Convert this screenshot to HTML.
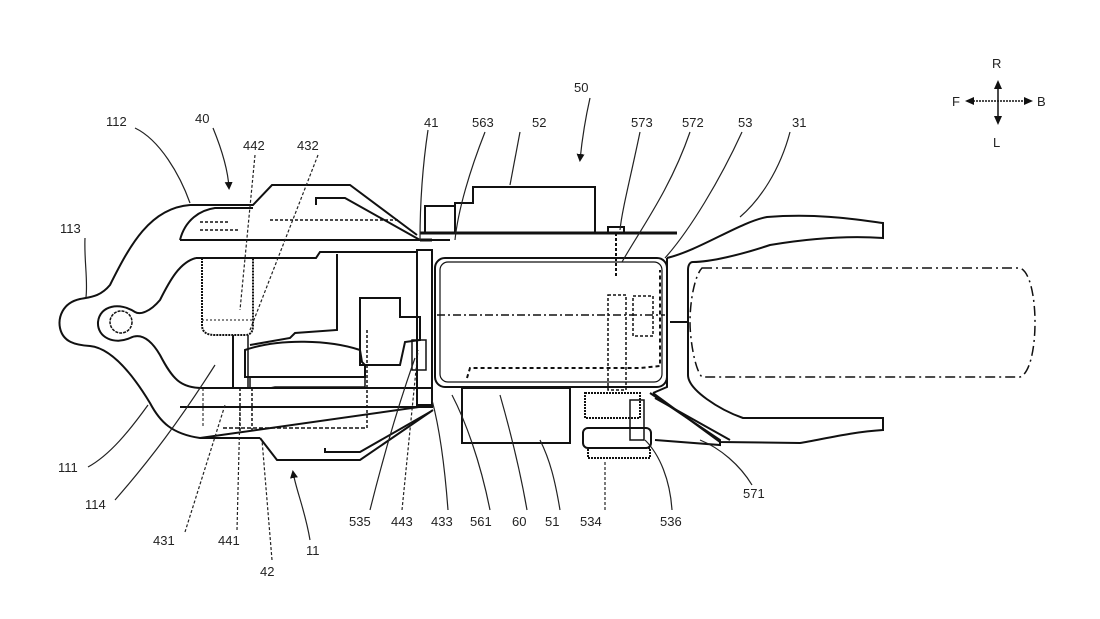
<!DOCTYPE html>
<html><head><meta charset="utf-8"><style>
html,body{margin:0;padding:0;background:#fff;}
svg{display:block;}
text{font-family:"Liberation Sans",sans-serif;font-size:13px;fill:#222;}
</style></head><body>
<svg width="1100" height="619" viewBox="0 0 1100 619" xmlns="http://www.w3.org/2000/svg">
<defs>
<marker id="ah" markerWidth="8" markerHeight="8" refX="6" refY="4" orient="auto" markerUnits="userSpaceOnUse"><path d="M0,0 L8,4 L0,8 Z" fill="#111"/></marker>
</defs>
<g fill="none" stroke="#111" stroke-width="2">
<!-- outer shell -->
<path d="M190,205 C150,208 130,245 110,285 C100,297 90,297 80,299 C62,303 58,318 60,328 C63,342 75,345 90,346 C110,348 130,370 150,403 C160,422 172,434 200,438 L260,438"/>
<path d="M190,205 L253,205 L272,185 L350,185 L417,235"/>
<path d="M316,205 L316,198 L345,198 L420,240"/>
<path d="M180,240 C185,220 200,210 215,208 L253,208"/>
<line x1="180" y1="240" x2="450" y2="240"/>
<!-- inner shell -->
<path d="M196,258 C180,262 170,280 160,300 C150,312 140,315 135,312 C120,302 100,305 98,322 C97,338 115,345 130,338 C140,333 150,338 160,355 C172,378 180,388 202,388 L433,388"/>
<circle cx="121" cy="322" r="11" stroke-width="1.5" stroke-dasharray="3,1"/>
<line x1="180" y1="407" x2="337" y2="407"/>
<path d="M337,407 L433,407"/>
<path d="M200,438 L433,405"/>
<path d="M260,438 L277,460 L360,460 L433,410"/>
<path d="M325,448 L325,452 L360,452 L430,412"/>
<!-- engine internals -->
<path d="M202,258 L202,325 C202,333 208,335 215,335 L245,335 C252,335 253,330 253,325 L253,258" stroke-dasharray="2,1"/>
<line x1="202" y1="320" x2="253" y2="320" stroke-width="1" stroke-dasharray="2,2"/>
<path d="M196,258 L316,258 L320,252 L417,252"/>
<path d="M337,254 L337,330 L295,333 L290,338 L250,345"/>
<path d="M245,350 L245,377 L365,377 L365,365 L362,362 L360,350 C330,340 280,338 245,350 Z"/>
<path d="M250,377 L250,388 L270,388 L275,387 L316,387 L365,387 L365,377" stroke-width="1.5"/>
<path d="M360,298 L400,298 L400,317 L420,317 L420,340 L405,342 L400,365 L360,365 Z"/>
<line x1="233" y1="335" x2="233" y2="388"/>
<line x1="248" y1="335" x2="248" y2="388" stroke-width="1.5"/>
<rect x="417" y="250" width="15" height="155"/>
<rect x="412" y="340" width="14" height="30" stroke-width="1.5"/>
<line x1="223" y1="428" x2="367" y2="428" stroke-width="1.5" stroke-dasharray="4,2"/>
<line x1="367" y1="330" x2="367" y2="428" stroke-width="1.5" stroke-dasharray="3,2"/>
<line x1="203" y1="388" x2="203" y2="428" stroke-width="1" stroke-dasharray="3,2"/>
<line x1="240" y1="388" x2="240" y2="432" stroke-width="1.5" stroke-dasharray="3,2"/>
<line x1="252" y1="388" x2="252" y2="432" stroke-width="1.5" stroke-dasharray="3,2"/>
<path d="M200,222 L230,222 M200,230 L240,230 M270,220 L400,220" stroke-width="1.5" stroke-dasharray="3,2"/>
<!-- top boxes -->
<rect x="425" y="206" width="30" height="27"/>
<path d="M455,233 L455,203 L473,203 L473,187 L595,187 L595,233"/>
<path d="M420,233 L677,233 M420,240 L432,240" stroke-width="3"/>
<rect x="608" y="227" width="16" height="6"/>
<line x1="616" y1="233" x2="616" y2="278" stroke-dasharray="3,2"/>
<!-- battery 51 -->
<rect x="435" y="258" width="232" height="129" rx="10"/>
<rect x="440" y="262" width="222" height="120" rx="8" stroke-width="1.2"/>
<line x1="437" y1="315" x2="665" y2="315" stroke-width="1.5" stroke-dasharray="8,3,2,3"/>
<path d="M467,378 L470,368 L640,368 L660,366 L660,270" stroke-width="2" stroke-dasharray="4,3"/>
<rect x="608" y="295" width="18" height="95" stroke-width="1.5" stroke-dasharray="3,2"/>
<rect x="633" y="296" width="20" height="40" stroke-width="1.5" stroke-dasharray="3,2"/>
<!-- box 60 -->
<rect x="462" y="388" width="108" height="55"/>
<!-- gear 534 -->
<rect x="585" y="393" width="55" height="25" stroke-dasharray="2,1"/>
<rect x="583" y="428" width="68" height="20" rx="5"/>
<rect x="588" y="448" width="62" height="10" stroke-dasharray="2,1"/>
<rect x="630" y="400" width="14" height="40" stroke-width="1.5"/>
<path d="M650,393 L720,440 L720,445 L655,440" />
<path d="M655,398 L730,440"/>
<!-- frame 31 -->
<path d="M667,258 L667,387 L653,393"/>
<path d="M667,258 C700,250 740,222 767,217 C820,213 860,220 883,223 L883,238 C840,235 800,240 770,245 C740,255 710,262 693,262 C690,262 688,265 688,270 L688,375 C688,390 720,410 743,418 L883,418 L883,430 C850,432 820,440 800,443 L720,442 L653,393"/>
<line x1="670" y1="322" x2="688" y2="322"/>
<!-- wheel dash-dot -->
<path d="M702,268 L1020,268 C1040,275 1040,370 1020,377 L702,377 C695,370 690,340 690,322 C690,300 695,275 702,268 Z" stroke-width="1.5" stroke-dasharray="10,4,2,4"/>
</g>
<!-- leader lines -->
<g fill="none" stroke="#222" stroke-width="1.2">
<path d="M85,238 C84,260 88,280 86,297"/>
<path d="M135,128 C160,140 180,175 190,203"/>
<path d="M213,128 C222,150 228,170 229,188" marker-end="url(#ah)"/>
<path d="M255,155 L240,310" stroke-dasharray="3,2"/>
<path d="M318,155 L250,330" stroke-dasharray="3,2"/>
<path d="M428,130 C422,170 420,210 420,240"/>
<path d="M485,132 C470,170 458,210 455,240"/>
<path d="M520,132 L510,185"/>
<path d="M590,98 C585,120 582,140 580,160" marker-end="url(#ah)"/>
<path d="M640,132 C630,180 622,210 620,230"/>
<path d="M690,132 C670,190 640,230 622,262"/>
<path d="M742,132 C720,180 690,230 665,258"/>
<path d="M790,132 C780,170 760,200 740,217"/>
<path d="M88,467 C110,455 130,430 148,405"/>
<path d="M115,500 C150,460 180,420 215,365"/>
<path d="M185,532 L225,405" stroke-dasharray="3,2"/>
<path d="M237,530 L240,410" stroke-dasharray="3,2"/>
<path d="M272,560 L262,440" stroke-dasharray="3,2"/>
<path d="M310,540 C305,510 296,490 293,472" marker-end="url(#ah)"/>
<path d="M370,510 C385,450 400,400 415,358"/>
<path d="M402,510 L418,350" stroke-dasharray="3,2"/>
<path d="M448,510 C445,470 440,430 432,400"/>
<path d="M490,510 C480,460 465,420 452,395"/>
<path d="M527,510 C520,470 510,430 500,395"/>
<path d="M560,510 C555,480 550,460 540,440"/>
<path d="M605,510 L605,460" stroke-dasharray="3,2"/>
<path d="M672,510 C670,480 660,455 645,440"/>
<path d="M752,485 C740,465 720,448 700,440"/>
</g>
<!-- compass -->
<g stroke="#111" stroke-width="1.5" fill="none">
<line x1="998" y1="88" x2="998" y2="118"/>
<line x1="970" y1="101" x2="1028" y2="101" stroke-dasharray="2,1"/>
</g>
<g fill="#111">
<path d="M998,80 L994,89 L1002,89 Z"/><path d="M998,125 L994,116 L1002,116 Z"/>
<path d="M965,101 L974,97 L974,105 Z"/><path d="M1033,101 L1024,97 L1024,105 Z"/>
</g>
<text x="992" y="68">R</text><text x="993" y="147">L</text>
<text x="952" y="106">F</text><text x="1037" y="106">B</text>
<!-- labels -->
<text x="60" y="233">113</text>
<text x="106" y="126">112</text>
<text x="195" y="123">40</text>
<text x="243" y="150">442</text>
<text x="297" y="150">432</text>
<text x="424" y="127">41</text>
<text x="472" y="127">563</text>
<text x="532" y="127">52</text>
<text x="574" y="92">50</text>
<text x="631" y="127">573</text>
<text x="682" y="127">572</text>
<text x="738" y="127">53</text>
<text x="792" y="127">31</text>
<text x="58" y="472">111</text>
<text x="85" y="509">114</text>
<text x="153" y="545">431</text>
<text x="218" y="545">441</text>
<text x="260" y="576">42</text>
<text x="306" y="555">11</text>
<text x="349" y="526">535</text>
<text x="391" y="526">443</text>
<text x="431" y="526">433</text>
<text x="470" y="526">561</text>
<text x="512" y="526">60</text>
<text x="545" y="526">51</text>
<text x="580" y="526">534</text>
<text x="660" y="526">536</text>
<text x="743" y="498">571</text>
</svg>
</body></html>
